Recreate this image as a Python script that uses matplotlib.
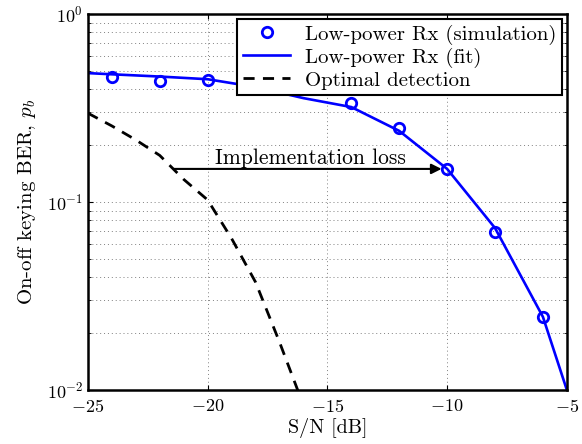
import matplotlib
matplotlib.use("Agg")
import matplotlib.pyplot as plt

plt.rcParams['font.family'] = ['cmr10', 'DejaVu Serif']
plt.rcParams['mathtext.fontset'] = 'cm'
plt.rcParams['axes.formatter.use_mathtext'] = True
plt.rcParams['axes.unicode_minus'] = True

# simulated points (low-power receiver), the ones visible outside the legend
snr_sim = [-24, -22, -20, -14, -12, -10, -8, -6]
ber_sim = [0.462, 0.44, 0.446, 0.336, 0.248, 0.15, 0.069, 0.0245]

# fitted curve
snr_fit = [-25, -24, -22, -20, -18, -16, -14, -12, -10, -8, -6, -5]
ber_fit = [0.485, 0.478, 0.465, 0.45, 0.409, 0.357, 0.32, 0.239, 0.15, 0.0727, 0.0245, 0.01]

# optimal detection
snr_opt = [-25, -24, -23, -22, -21, -20, -19, -18, -17, -16]
ber_opt = [0.297, 0.254, 0.214, 0.177, 0.132, 0.1026, 0.064, 0.0375, 0.018, 0.0083]

fig = plt.figure(figsize=(5.82, 4.44), dpi=100)
ax = fig.add_axes([0.151, 0.1216, 0.823, 0.8468])

ax.semilogy(snr_sim, ber_sim, 'o', color='blue', markerfacecolor='none',
            markeredgewidth=2, markersize=7.5, label='Low-power Rx (simulation)')
ax.semilogy(snr_fit, ber_fit, '-', color='blue', linewidth=1.9,
            label='Low-power Rx (fit)')
ax.semilogy(snr_opt, ber_opt, '--', color='black', linewidth=2,
            dashes=(4, 3), label='Optimal detection')

ax.annotate('', xy=(-10, 0.15), xytext=(-21.4, 0.15),
            arrowprops=dict(arrowstyle='-|>', color='black', lw=1.5,
                            mutation_scale=15, shrinkA=0, shrinkB=4))
ax.text(-15.7, 0.172, 'Implementation loss', fontsize=15.5,
        ha='center', va='center')

ax.set_xlim(-25, -5)
ax.set_ylim(0.01, 1)
ax.set_xticks([-25, -20, -15, -10, -5])
ax.set_xlabel('S/N [dB]', fontsize=14.5, labelpad=2)
ax.set_ylabel('On-off keying BER, $p_b$', fontsize=15, labelpad=6)

ax.grid(True, which='major', linestyle=(0, (1, 3)), color='0.5', linewidth=0.7)
ax.grid(True, which='minor', axis='y', linestyle=(0, (1, 3)), color='0.5', linewidth=0.7)
ax.tick_params(which='both', direction='in', top=True, right=True, labelsize=13)
ax.tick_params(axis='x', pad=6)
for s in ax.spines.values():
    s.set_linewidth(1.8)

leg = ax.legend(loc='upper right', fontsize=15, fancybox=False,
                framealpha=1, edgecolor='black', borderaxespad=0.25,
                handlelength=2.3, borderpad=0.25, labelspacing=0.15,
                handletextpad=0.7)
leg.get_frame().set_linewidth(1.5)

plt.savefig('out.png', dpi=100)
